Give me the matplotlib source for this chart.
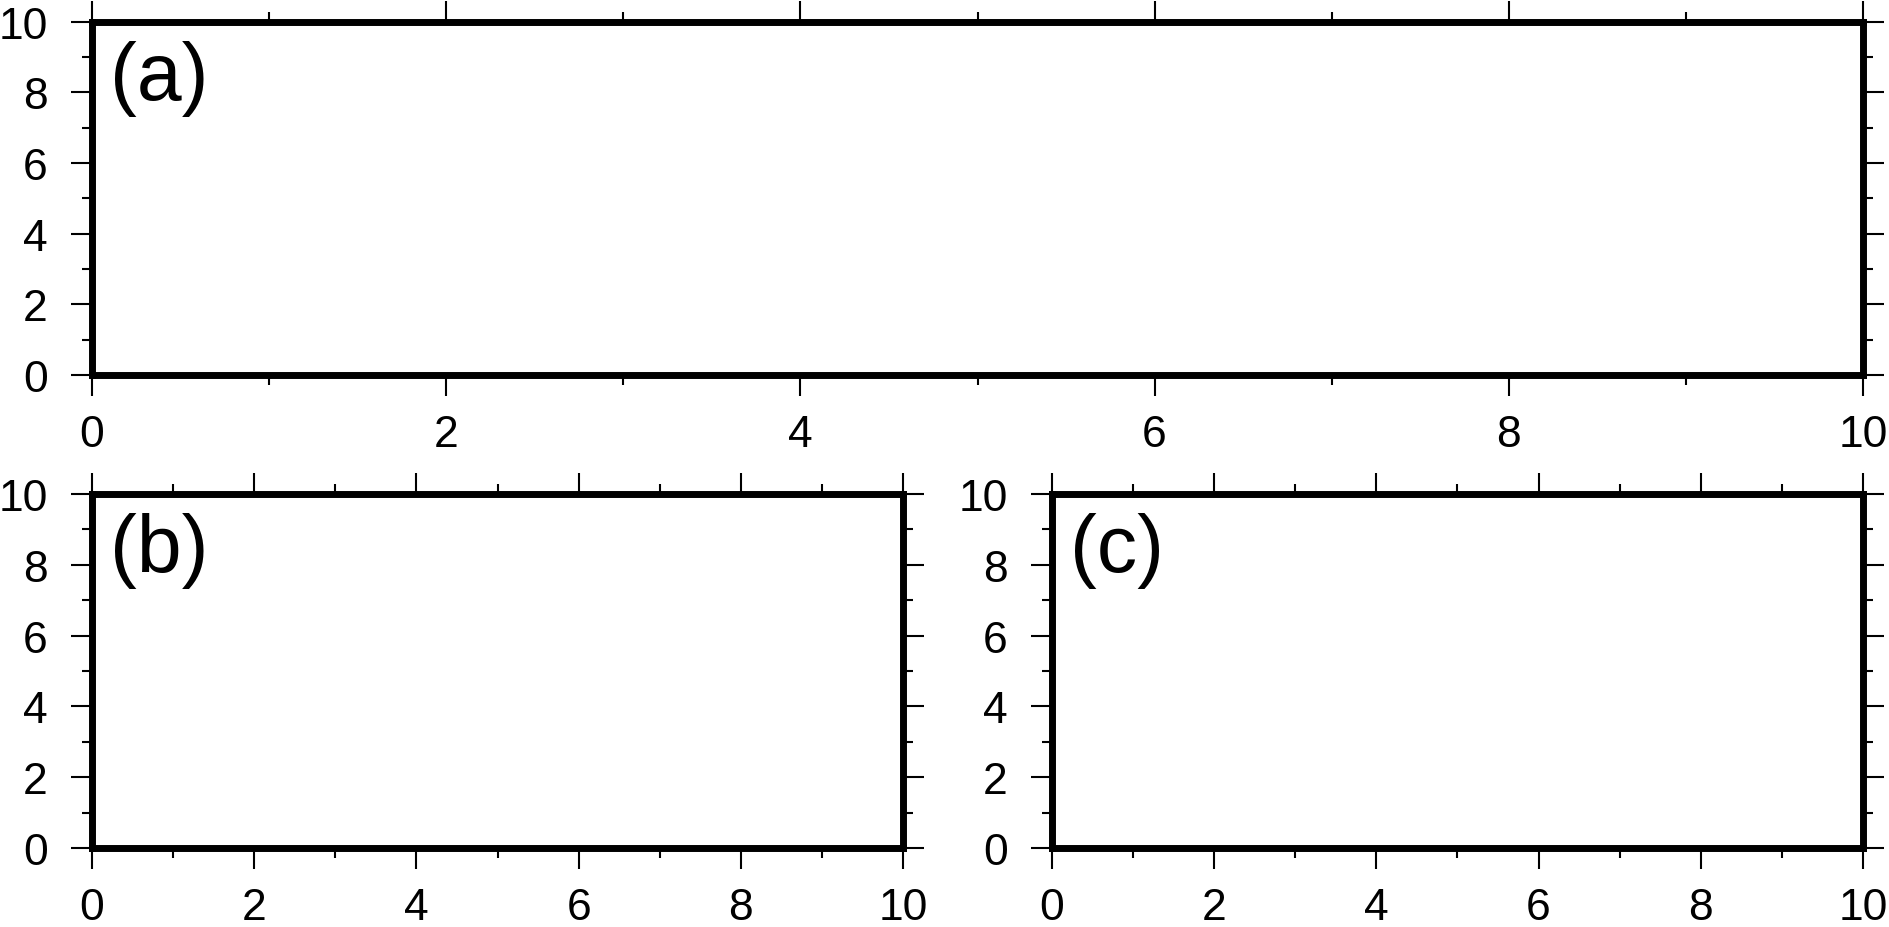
import matplotlib
matplotlib.use("Agg")
import matplotlib.pyplot as plt
from matplotlib.ticker import MultipleLocator

# Axis ranges and panel tags
x_range = [0, 10]
y_range = [0, 10]
panel_tags = ["(a)", "(b)", "(c)"]

plt.rcParams['font.family'] = ['Liberation Sans', 'DejaVu Sans']

fig = plt.figure(figsize=(18.9, 9.28), dpi=100)

# Panel positions (figure fractions)
rects = [
    [0.0487, 0.5948, 0.9370, 0.3809],
    [0.0487, 0.0851, 0.4291, 0.3815],
    [0.5566, 0.0851, 0.4291, 0.3815],
]

for rect, tag in zip(rects, panel_tags):
    ax = fig.add_axes(rect)
    ax.set_xlim(x_range)
    ax.set_ylim(y_range)
    ax.xaxis.set_major_locator(MultipleLocator(2))
    ax.xaxis.set_minor_locator(MultipleLocator(1))
    ax.yaxis.set_major_locator(MultipleLocator(2))
    ax.yaxis.set_minor_locator(MultipleLocator(1))
    ax.tick_params(which='both', direction='out', top=True, right=True,
                   width=1.5, colors='black')
    ax.tick_params(which='major', length=15, labelsize=32)
    ax.tick_params(which='minor', length=7.5)
    ax.tick_params(axis='x', which='major', pad=13)
    ax.tick_params(axis='y', which='major', pad=17)
    for sp in ax.spines.values():
        sp.set_linewidth(5)
        sp.set_capstyle('projecting')
        sp.set_zorder(5)
    # panel tag, offset in pixels from the top-left corner
    ax.annotate(tag, xy=(0, 1), xycoords='axes fraction',
                xytext=(18, -18), textcoords='offset pixels',
                fontsize=58, va='top', ha='left')

fig.savefig("out.png", dpi=100)
